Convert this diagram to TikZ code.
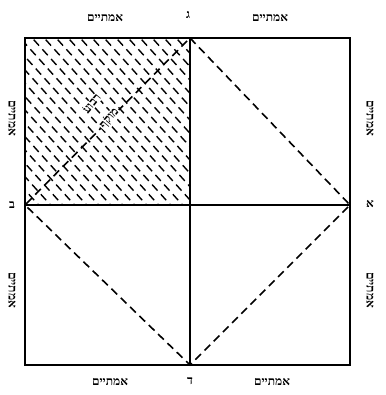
\documentclass[tikz,border=0pt]{standalone}
\usepackage{fontspec}
\newfontfamily\hebfont[Script=Hebrew]{Liberation Serif}
\TeXXeTstate=1
\begin{document}
\begin{tikzpicture}[x=1pt,y=-1pt,
  lbl/.style={font=\hebfont\bfseries\fontsize{12}{13}\selectfont, inner sep=1pt},
  frame/.style={line width=1.8pt},
  cross/.style={line width=1.6pt},
  diag/.style={line width=1.6pt, dash pattern=on 8pt off 5pt},
  hatch/.style={line width=1.4pt, dash pattern=on 8pt off 5pt}]
\useasboundingbox (0,0) rectangle (385,395);
% corners and points
\coordinate (tl) at (25,38);
\coordinate (tr) at (350,38);
\coordinate (br) at (350,365);
\coordinate (bl) at (25,365);
\coordinate (g) at (190,38);
\coordinate (d) at (190,365);
\coordinate (b) at (25,205);
\coordinate (a) at (350,205);
\coordinate (c) at (190,205);
% hatching of top-left quadrant
\begin{scope}
  \clip (tl) rectangle (c);
  \foreach \k in {-180,-168,...,180} {
    \draw[hatch] (25+\k,30) -- ++(180,200);
  }
\end{scope}
% frame and cross
\draw[frame] (tl) rectangle (br);
\draw[cross] (g) -- (d);
\draw[cross] (b) -- (a);
% diamond
\draw[diag] (g) -- (a) -- (d) -- (b) -- cycle;
% labels of points
\node[lbl] (lg) at (188,15) {\hbox{\beginR ג\endR}};
\node[lbl] (ld) at (190,381) {\hbox{\beginR ד\endR}};
\node[lbl] (lb) at (12,205) {\hbox{\beginR ב\endR}};
\node[lbl] (la) at (370,204) {\hbox{\beginR א\endR}};
% side measures
\node[lbl] (t1) at (105,18) {\hbox{\beginR אמתיים\endR}};
\node[lbl] (t2) at (270,18) {\hbox{\beginR אמתיים\endR}};
\node[lbl] (b1) at (110,382) {\hbox{\beginR אמתיים\endR}};
\node[lbl] (b2) at (272,382) {\hbox{\beginR אמתיים\endR}};
\node[lbl, rotate=-90] (l1) at (12,118) {\hbox{\beginR אמתיים\endR}};
\node[lbl, rotate=-90] (l2) at (12,290) {\hbox{\beginR אמתיים\endR}};
\node[lbl, rotate=-90] (r1) at (370,118) {\hbox{\beginR אמתיים\endR}};
\node[lbl, rotate=-90] (r2) at (370,290) {\hbox{\beginR אמתיים\endR}};
% inner text
\node[lbl, rotate=50, fill=white, inner sep=1pt] (in1) at (92,104) {\hbox{\beginR רבוע\endR}};
\node[lbl, rotate=50, fill=white, inner sep=1pt] (in2) at (110,119) {\hbox{\beginR מוקף\endR}};
\end{tikzpicture}
\end{document}
